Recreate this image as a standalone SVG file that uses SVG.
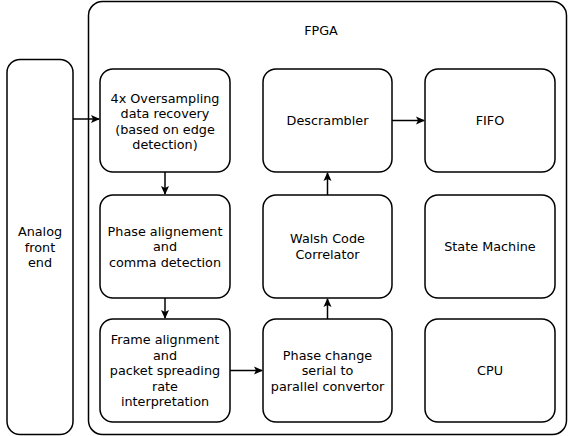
<svg xmlns="http://www.w3.org/2000/svg" width="568" height="436" viewBox="0 0 568 436">
<style>
.box{fill:#fff;stroke:#000;stroke-width:1.5}
.t{font-family:"DejaVu Sans",sans-serif;font-size:12.8px;fill:#000;text-anchor:middle}
.c{stroke:#000;stroke-width:1.5;fill:none;marker-end:url(#a)}
</style>
<defs>
<marker id="a" markerWidth="10" markerHeight="10" refX="8" refY="5" orient="auto" markerUnits="userSpaceOnUse">
<path d="M0,1 L9,5 L0,9 L2,5 Z" fill="#000"/>
</marker>
</defs>
<g id="analog">
<rect class="box" x="7" y="59.5" width="66" height="375" rx="13"/>
<text class="t"><tspan x="40" y="236">Analog</tspan><tspan x="40" y="251.5">front</tspan><tspan x="40" y="267">end</tspan></text>
</g>
<g id="fpga">
<rect class="box" x="88.5" y="1.5" width="478" height="433" rx="14"/>
<text class="t" x="321" y="34.5">FPGA</text>
</g>
<g id="oversampling">
<rect class="box" x="100" y="69" width="130" height="103" rx="13"/>
<text class="t"><tspan x="165" y="102.5">4x Oversampling</tspan><tspan x="165" y="118">data recovery</tspan><tspan x="165" y="133.5">(based on edge</tspan><tspan x="165" y="149">detection)</tspan></text>
</g>
<g id="phasealign">
<rect class="box" x="100" y="195" width="130" height="103" rx="13"/>
<text class="t"><tspan x="165" y="235.5">Phase alignement</tspan><tspan x="165" y="251">and</tspan><tspan x="165" y="266.5">comma detection</tspan></text>
</g>
<g id="framealign">
<rect class="box" x="100" y="319" width="130" height="103" rx="13"/>
<text class="t"><tspan x="165" y="344">Frame alignment</tspan><tspan x="165" y="359.5">and</tspan><tspan x="165" y="375">packet spreading</tspan><tspan x="165" y="390.5">rate</tspan><tspan x="165" y="406">interpretation</tspan></text>
</g>
<g id="descrambler">
<rect class="box" x="263" y="69" width="129" height="103" rx="13"/>
<text class="t" x="327.5" y="125">Descrambler</text>
</g>
<g id="walsh">
<rect class="box" x="263" y="195" width="129" height="103" rx="13"/>
<text class="t"><tspan x="327.5" y="243">Walsh Code</tspan><tspan x="327.5" y="258.5">Correlator</tspan></text>
</g>
<g id="phasechange">
<rect class="box" x="263" y="319" width="129" height="103" rx="13"/>
<text class="t"><tspan x="327.5" y="359.5">Phase change</tspan><tspan x="327.5" y="375">serial to</tspan><tspan x="327.5" y="390.5">parallel convertor</tspan></text>
</g>
<g id="fifo">
<rect class="box" x="425" y="69" width="130" height="103" rx="13"/>
<text class="t" x="490" y="125">FIFO</text>
</g>
<g id="statemachine">
<rect class="box" x="425" y="195" width="130" height="103" rx="13"/>
<text class="t" x="490" y="251">State Machine</text>
</g>
<g id="cpu">
<rect class="box" x="425" y="319" width="130" height="103" rx="13"/>
<text class="t" x="490" y="375">CPU</text>
</g>
<g id="connectors">
<path class="c" d="M73,119 L99,119"/>
<path class="c" d="M165,172 L165,194"/>
<path class="c" d="M165,298 L165,318"/>
<path class="c" d="M230,370.5 L262,370.5"/>
<path class="c" d="M327.5,319 L327.5,299"/>
<path class="c" d="M327.5,195 L327.5,173"/>
<path class="c" d="M392,120.5 L424,120.5"/>
</g>
</svg>
